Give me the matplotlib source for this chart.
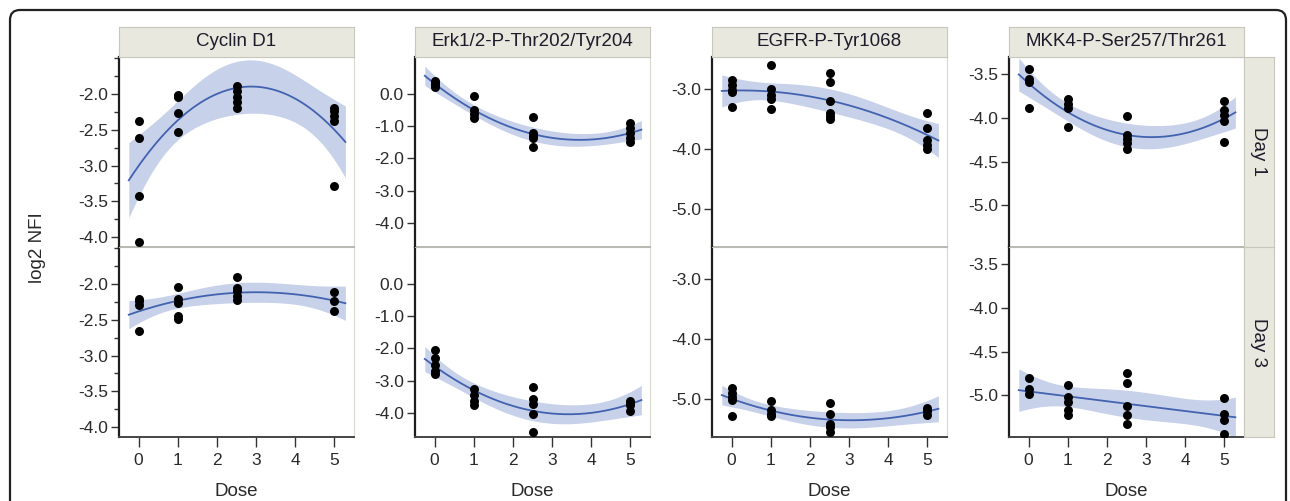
import numpy as np
import matplotlib
matplotlib.use("Agg")
import matplotlib.pyplot as plt
from matplotlib.patches import FancyBboxPatch
from matplotlib.transforms import IdentityTransform
from matplotlib.ticker import MultipleLocator, FixedLocator

plt.rcParams['font.family'] = ['Liberation Sans', 'DejaVu Sans']

# ---------------- data ----------------
DOSES = [0, 1, 2.5, 5]
PROTEINS = ["Cyclin D1", "Erk1/2-P-Thr202/Tyr204", "EGFR-P-Tyr1068", "MKK4-P-Ser257/Thr261"]
DAYS = ["Day 1", "Day 3"]

# log2 NFI values per dose (lists in DOSES order)
cyclin_day1 = [[-2.37, -2.62, -3.42, -4.07], [-2.01, -2.03, -2.04, -2.26, -2.53],
               [-1.89, -1.95, -2.04, -2.11, -2.19], [-2.19, -2.24, -2.30, -2.37, -3.28]]
erk_day1 = [[0.40, 0.34, 0.28, 0.22], [-0.08, -0.50, -0.63, -0.76],
            [-0.71, -1.22, -1.30, -1.38, -1.64], [-0.91, -1.07, -1.22, -1.38, -1.49]]
egfr_day1 = [[-2.85, -2.93, -3.02, -3.06, -3.30], [-2.60, -3.01, -3.10, -3.17, -3.33],
             [-2.73, -2.88, -3.21, -3.41, -3.45, -3.50], [-3.41, -3.66, -3.85, -3.93, -4.01]]
mkk4_day1 = [[-3.44, -3.55, -3.59, -3.89], [-3.78, -3.84, -3.88, -4.10],
             [-3.98, -4.19, -4.24, -4.29, -4.35], [-3.81, -3.91, -3.97, -4.04, -4.28]]

cyclin_day3 = [[-2.21, -2.24, -2.29, -2.65], [-2.04, -2.21, -2.26, -2.45, -2.49],
               [-1.90, -2.05, -2.09, -2.16, -2.22], [-2.11, -2.24, -2.38]]
erk_day3 = [[-2.04, -2.29, -2.53, -2.69, -2.79], [-3.26, -3.46, -3.62, -3.77],
            [-3.20, -3.57, -3.72, -4.03, -4.58], [-3.62, -3.70, -3.77, -3.93]]
egfr_day3 = [[-4.83, -4.90, -4.97, -5.03, -5.29], [-5.04, -5.19, -5.25, -5.29],
             [-5.07, -5.25, -5.42, -5.47, -5.55], [-5.16, -5.21, -5.27]]
mkk4_day3 = [[-4.80, -4.93, -4.99], [-4.88, -5.02, -5.08, -5.17, -5.23],
             [-4.74, -4.86, -5.13, -5.23, -5.33], [-5.03, -5.22, -5.29, -5.45]]

DATA = [[cyclin_day1, erk_day1, egfr_day1, mkk4_day1],
        [cyclin_day3, erk_day3, egfr_day3, mkk4_day3]]

Y_LIMITS = [(-4.14, -1.48), (-4.75, 1.14), (-5.64, -2.47), (-5.48, -3.30)]
Y_TICKS = [[-4.0, -3.5, -3.0, -2.5, -2.0], [-4.0, -3.0, -2.0, -1.0, 0.0],
           [-5.0, -4.0, -3.0], [-5.0, -4.5, -4.0, -3.5]]
X_TICKS = [0, 1, 2, 3, 4, 5]

# ---------------- styles ----------------
W, H = 1290, 501
BAND = (0.784, 0.820, 0.918)
LINE = "#4262b0"
STRIP = "#e9e8de"
STRIP_EDGE = "#c8c7bb"
FRAME_LIGHT = "#d9d8cc"
TXT = "#2a2a2a"
TICK_FS = 12.5
LABEL_FS = 13.5
STRIP_FS = 13.5


def rect(l, t, w, h):
    return [l / W, 1 - (t + h) / H, w / W, h / H]


def t975(df):
    z = 1.959964
    g1 = (z**3 + z) / 4
    g2 = (5 * z**5 + 16 * z**3 + 3 * z) / 96
    g3 = (3 * z**7 + 19 * z**5 + 17 * z**3 - 15 * z) / 384
    return z + g1 / df + g2 / df**2 + g3 / df**3


def quad_fit(x, y, xs):
    X = np.column_stack([np.ones_like(x), x, x**2])
    beta, *_ = np.linalg.lstsq(X, y, rcond=None)
    resid = y - X @ beta
    df = len(y) - 3
    s2 = resid @ resid / df
    cov = s2 * np.linalg.inv(X.T @ X)
    Xs = np.column_stack([np.ones_like(xs), xs, xs**2])
    fit = Xs @ beta
    se = np.sqrt(np.einsum('ij,jk,ik->i', Xs, cov, Xs))
    hw = t975(df) * se
    return fit, fit - hw, fit + hw


fig = plt.figure(figsize=(W / 100, H / 100), dpi=100)

col_left = [119, 415, 712, 1009]
pw = 235
row_top = [57, 247]
ph = 190

for r in range(2):
    for c in range(4):
        ax = fig.add_axes(rect(col_left[c], row_top[r], pw, ph))
        groups = DATA[r][c]
        xv = np.concatenate([[d] * len(g) for d, g in zip(DOSES, groups)]).astype(float)
        yv = np.concatenate([np.array(g, float) for g in groups])
        xs = np.linspace(-0.25, 5.28, 200)
        fit, lo, hi = quad_fit(xv, yv, xs)
        ax.fill_between(xs, lo, hi, color=BAND, lw=0, zorder=1)
        ax.plot(xs, fit, color=LINE, lw=1.3, zorder=2)
        ax.scatter(xv, yv, s=42, color="black", lw=0, zorder=3)
        ax.set_xlim(-0.5, 5.5)
        ax.set_ylim(*Y_LIMITS[c])
        ax.yaxis.set_major_locator(FixedLocator(Y_TICKS[c]))
        ax.set_yticklabels([f"{v:.1f}" for v in Y_TICKS[c]])
        if c == 0:
            ax.yaxis.set_minor_locator(MultipleLocator(0.25))
            ax.tick_params(axis='y', which='minor', length=3.5, width=1, color="#333333")
        ax.tick_params(axis='y', which='major', length=6, width=1, color="#333333",
                       labelsize=TICK_FS, labelcolor=TXT, pad=2)
        ax.spines['left'].set_color("#1e1e1e")
        ax.spines['left'].set_linewidth(1.6)
        ax.spines['top'].set_color("#b9b9b2")
        ax.spines['right'].set_color(FRAME_LIGHT)
        if r == 0:
            ax.set_xticks([])
            ax.spines['bottom'].set_color("#b9b9b2")
            ax.spines['bottom'].set_linewidth(1.4)
        else:
            ax.set_xticks(X_TICKS)
            ax.tick_params(axis='x', length=7.5, width=1, color="#333333",
                           labelsize=TICK_FS, labelcolor=TXT, pad=4)
            ax.spines['bottom'].set_color("#444444")
            ax.spines['bottom'].set_linewidth(1.4)
            ax.text(0.5, -0.24, "Dose", transform=ax.transAxes, ha="center", va="top",
                    fontsize=LABEL_FS, color=TXT)

# column strips
for c in range(4):
    sa = fig.add_axes(rect(col_left[c], 27, pw, 30))
    sa.set_facecolor(STRIP)
    sa.set_xticks([]); sa.set_yticks([])
    for sp in sa.spines.values():
        sp.set_color(STRIP_EDGE)
    sa.text(0.5, 0.5, PROTEINS[c], ha="center", va="center", fontsize=STRIP_FS,
            color="#1c1c2c", transform=sa.transAxes)

# row strips
for r in range(2):
    sa = fig.add_axes(rect(col_left[3] + pw, row_top[r], 30, ph))
    sa.set_facecolor(STRIP)
    sa.set_xticks([]); sa.set_yticks([])
    for sp in sa.spines.values():
        sp.set_color(STRIP_EDGE)
    sa.text(0.5, 0.5, DAYS[r], ha="center", va="center", fontsize=STRIP_FS, rotation=-90,
            color="#1c1c2c", transform=sa.transAxes)

fig.text(38 / W, 1 - 248 / H, "log2 NFI", rotation=90, ha="center", va="center",
         fontsize=LABEL_FS, color=TXT)

frame = FancyBboxPatch((10, -60), 1276, H - 10 + 60, boxstyle="round,pad=0,rounding_size=10",
                       transform=IdentityTransform(), fill=False, lw=1.6, ec="#222222")
fig.add_artist(frame)

fig.savefig("out.png", dpi=100)
